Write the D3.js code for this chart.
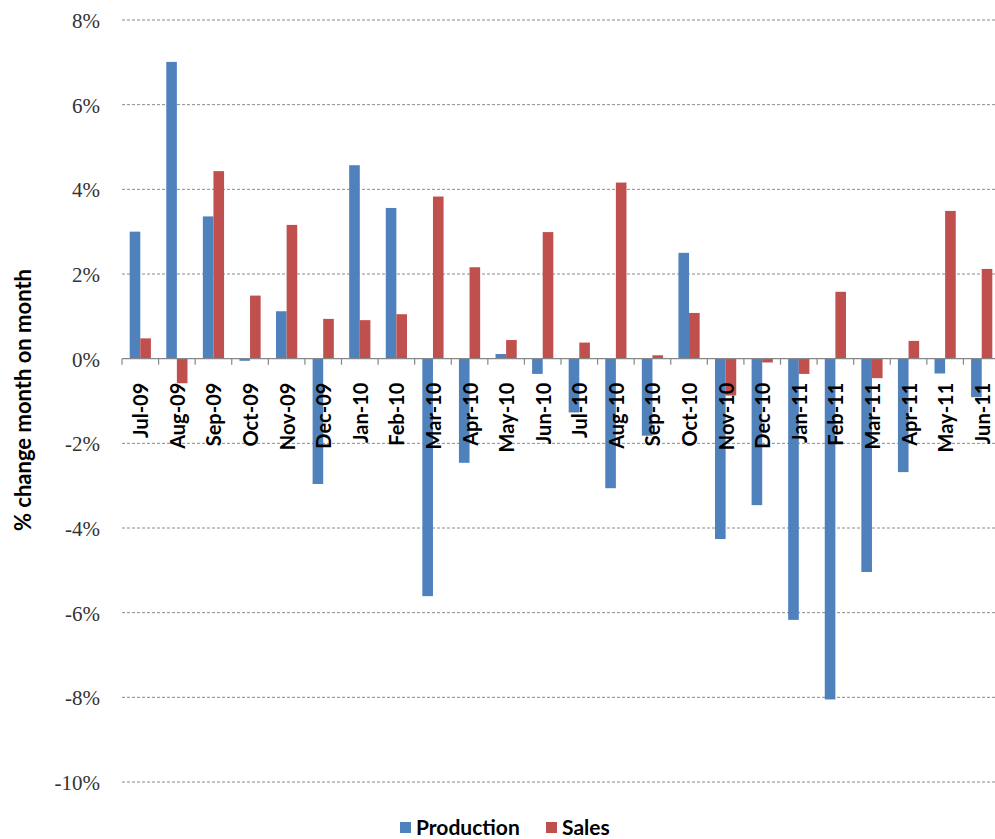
<!DOCTYPE html>
<html>
<head>
<meta charset="utf-8">
<script src="https://cdn.jsdelivr.net/npm/d3@7"></script>
<style>
  html, body { margin: 0; padding: 0; background: #fff; }
  svg { display: block; }
</style>
</head>
<body>
<svg id="chart" width="995" height="839"></svg>
<script>
// Monthly % change, Jul 2009 – Jun 2011
const months = ["Jul-09","Aug-09","Sep-09","Oct-09","Nov-09","Dec-09",
  "Jan-10","Feb-10","Mar-10","Apr-10","May-10","Jun-10",
  "Jul-10","Aug-10","Sep-10","Oct-10","Nov-10","Dec-10",
  "Jan-11","Feb-11","Mar-11","Apr-11","May-11","Jun-11"];
const production = [3.0, 7.01, 3.36, -0.05, 1.12, -2.96,
  4.57, 3.56, -5.61, -2.46, 0.11, -0.36,
  -1.27, -3.06, -1.82, 2.50, -4.26, -3.46,
  -6.17, -8.05, -5.04, -2.68, -0.35, -0.91];
const sales = [0.48, -0.58, 4.43, 1.49, 3.16, 0.94,
  0.91, 1.05, 3.83, 2.16, 0.44, 2.99,
  0.38, 4.16, 0.08, 1.08, -0.87, -0.09,
  -0.36, 1.58, -0.46, 0.42, 3.49, 2.12];
const seriesNames = ["Production", "Sales"];
const seriesColors = ["#4F81BD", "#C0504D"];
const yTicks = [8, 6, 4, 2, 0, -2, -4, -6, -8, -10];

const svg = d3.select("#chart");
const plot = { left: 122, right: 1000, top: 20, bottom: 782 };

const y = d3.scaleLinear().domain([-10, 8]).range([plot.bottom, plot.top]);
const pad = 0.42;
const x0 = d3.scaleBand().domain(months).range([plot.left, plot.right])
  .paddingInner(pad).paddingOuter(pad / 2);
const x1 = d3.scaleBand().domain(seriesNames).range([0, x0.bandwidth()]);
const step = x0.step();

const sans = "Lato, 'Open Sans', 'Noto Sans', sans-serif";

// Horizontal gridlines
svg.append("g")
  .selectAll("line")
  .data(yTicks.filter(t => t !== 0))
  .join("line")
  .attr("x1", plot.left).attr("x2", plot.right)
  .attr("y1", d => y(d)).attr("y2", d => y(d))
  .attr("stroke", "#8a8a8a")
  .attr("stroke-width", 1)
  .attr("stroke-dasharray", "3,2");

// Y tick labels
const yAxis = d3.axisLeft(y).tickValues(yTicks)
  .tickFormat(d => d + "%").tickSize(0).tickPadding(0);
const gy = svg.append("g").attr("transform", `translate(100,0)`).call(yAxis);
gy.select(".domain").remove();
gy.selectAll("text")
  .attr("font-family", "'Liberation Serif', 'DejaVu Serif', serif")
  .attr("font-size", 21)
  .attr("fill", "#333")
  .attr("dy", "0.35em");

// Bars
const rows = months.map((m, i) => ({ month: m, values: [production[i], sales[i]] }));
svg.append("g")
  .selectAll("g")
  .data(rows)
  .join("g")
  .attr("transform", d => `translate(${x0(d.month)},0)`)
  .selectAll("rect")
  .data(d => d.values.map((v, k) => ({ key: seriesNames[k], value: v, color: seriesColors[k] })))
  .join("rect")
  .attr("x", d => x1(d.key))
  .attr("width", x1.bandwidth())
  .attr("y", d => y(Math.max(0, d.value)))
  .attr("height", d => Math.abs(y(d.value) - y(0)))
  .attr("fill", d => d.color);

// Zero axis line with category boundary ticks
const zero = y(0);
svg.append("line")
  .attr("x1", plot.left).attr("x2", plot.right)
  .attr("y1", zero).attr("y2", zero)
  .attr("stroke", "#868686").attr("stroke-width", 1.2);
const boundaries = months.map(m => x0(m) - step * pad / 2);
svg.append("g")
  .selectAll("line")
  .data(boundaries)
  .join("line")
  .attr("x1", d => d).attr("x2", d => d)
  .attr("y1", zero).attr("y2", zero + 6)
  .attr("stroke", "#868686").attr("stroke-width", 1.2);

// Category labels, rotated, hanging below the zero line
svg.append("g")
  .selectAll("text")
  .data(months)
  .join("text")
  .attr("transform", d => `translate(${x0(d) + x0.bandwidth() / 2 + 8},${zero + 24}) rotate(-90)`)
  .attr("text-anchor", "end")
  .attr("font-family", sans)
  .attr("font-weight", 700)
  .attr("font-size", 20)
  .attr("fill", "#000")
  .text(d => d);

// Y axis title
svg.append("text")
  .attr("transform", `translate(31,${(plot.top + plot.bottom) / 2 - 1}) rotate(-90)`)
  .attr("text-anchor", "middle")
  .attr("font-family", sans)
  .attr("font-weight", 700)
  .attr("font-size", 22)
  .attr("fill", "#000")
  .text("% change month on month");

// Legend
const legend = svg.append("g").attr("transform", "translate(400,835)");
const legendX = [0, 146];
seriesNames.forEach((name, k) => {
  const g = legend.append("g").attr("transform", `translate(${legendX[k]},0)`);
  g.append("rect").attr("x", 0).attr("y", -13).attr("width", 11).attr("height", 11)
    .attr("fill", seriesColors[k]);
  g.append("text").attr("x", 16).attr("y", 0)
    .attr("font-family", sans)
    .attr("font-weight", 700)
    .attr("font-size", 21)
    .attr("fill", "#000")
    .text(name);
});
</script>
</body>
</html>
